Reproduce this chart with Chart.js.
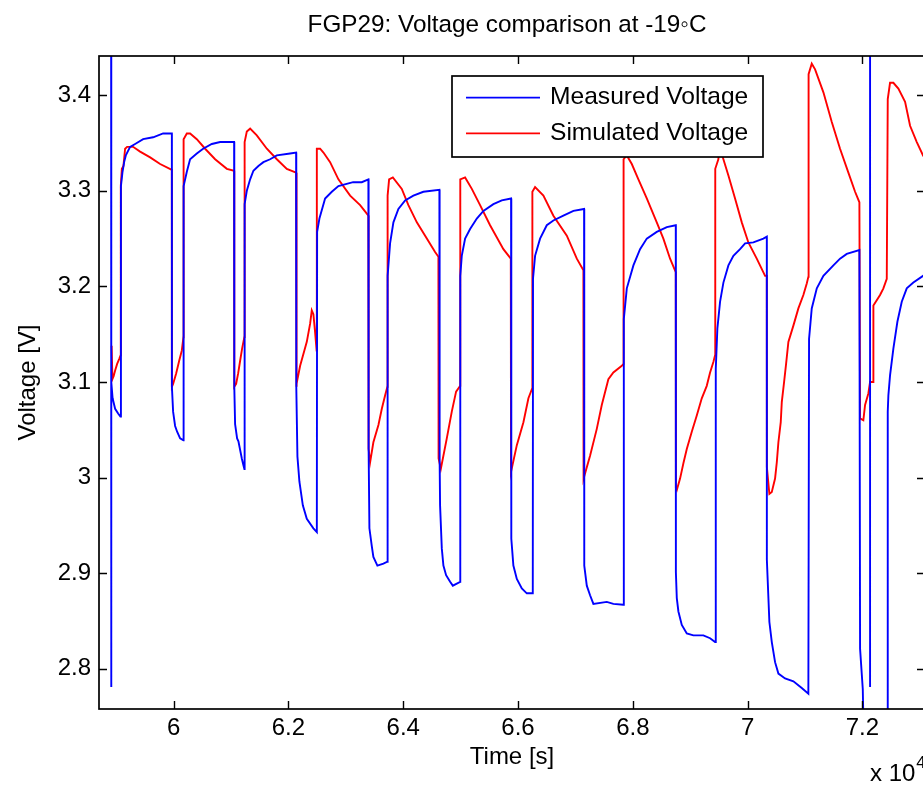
<!DOCTYPE html>
<html>
<head>
<meta charset="utf-8">
<script src="https://cdn.jsdelivr.net/npm/chart.js@4.4.1/dist/chart.umd.min.js"></script>
<style>
  html, body { margin: 0; padding: 0; background: #fff; overflow: hidden; width: 923px; height: 786px; }
  canvas { display: block; }
</style>
</head>
<body>
<canvas id="c" width="960" height="786"></canvas>
<script>
// ---------- data (time in s, voltage in V) ----------
const chartTitle = 'FGP29: Voltage comparison at -19\u25E6C';
const seriesNames = ['Measured Voltage', 'Simulated Voltage'];
const xTickValues = [60000, 62000, 64000, 66000, 68000, 70000, 72000];
const yTickValues = [2.8, 2.9, 3.0, 3.1, 3.2, 3.3, 3.4];

const measuredTime = [
  58911, 58911, 58917, 58937, 58981, 59033, 59073,
  59082, 59108, 59138, 59167, 59242, 59329, 59469, 59643, 59817, 59969,
  59970, 59991, 60026, 60061, 60113, 60171,
  60174, 60230, 60287, 60404, 60514, 60665, 60810, 61054,
  61057, 61071, 61106, 61129, 61188, 61216, 61233,
  61237, 61275, 61333, 61390, 61477, 61564, 61681, 61798, 62029, 62134,
  62137, 62157, 62191, 62251, 62320, 62435, 62495,
  62500, 62540, 62639, 62756, 62871, 63127, 63278, 63393,
  63397, 63411, 63453, 63480, 63550, 63655, 63724,
  63728, 63771, 63829, 63916, 64033, 64177, 64351, 64630,
  64634, 64642, 64672, 64700, 64747, 64817, 64864, 64991,
  64994, 65020, 65078, 65165, 65282, 65397, 65571, 65717, 65879,
  65883, 65919, 65979, 66066, 66153, 66257,
  66261, 66297, 66384, 66501, 66616, 66790, 66965, 67151,
  67154, 67198, 67255, 67313, 67546, 67661, 67836,
  67843, 67895, 68010, 68126, 68243, 68417, 68592, 68748,
  68750, 68766, 68794, 68853, 68940, 69055, 69229, 69346, 69433,
  69445, 69473, 69520, 69578, 69665, 69752, 69868, 69956, 70100, 70274, 70334,
  70335, 70379, 70421, 70478, 70536, 70652, 70797, 70943, 71058,
  71070, 71117, 71205, 71320, 71494, 71610, 71727, 71947,
  71959, 72006, 72016, 72029, 72080,
  72133, 72133, 72300,
  72438, 72441, 72452, 72481, 72539, 72609, 72685, 72772, 72887, 73056, 73265
];
const measuredVoltage = [
  3.600, 2.781, 3.100, 3.083, 3.072, 3.067, 3.064,
  3.305, 3.319, 3.330, 3.337, 3.346, 3.349, 3.354, 3.356, 3.360, 3.360,
  3.095, 3.069, 3.054, 3.048, 3.041, 3.039,
  3.305, 3.320, 3.333, 3.339, 3.344, 3.349, 3.351, 3.351,
  3.095, 3.056, 3.041, 3.038, 3.020, 3.013, 3.009,
  3.286, 3.300, 3.312, 3.321, 3.326, 3.330, 3.333, 3.337, 3.339, 3.340,
  3.095, 3.022, 2.996, 2.971, 2.957, 2.947, 2.943,
  3.257, 3.271, 3.292, 3.299, 3.305, 3.309, 3.309, 3.312,
  3.030, 2.947, 2.928, 2.917, 2.908, 2.910, 2.912,
  3.211, 3.245, 3.267, 3.281, 3.290, 3.295, 3.299, 3.301,
  3.020, 2.971, 2.926, 2.908, 2.898, 2.891, 2.887, 2.891,
  3.211, 3.232, 3.250, 3.260, 3.271, 3.279, 3.286, 3.290, 3.292,
  2.936, 2.908, 2.894, 2.884, 2.879, 2.879,
  3.208, 3.232, 3.250, 3.264, 3.269, 3.274, 3.279, 3.281,
  2.908, 2.887, 2.877, 2.868, 2.870, 2.868, 2.867,
  3.166, 3.198, 3.222, 3.239, 3.250, 3.257, 3.262, 3.264,
  2.901, 2.874, 2.860, 2.846, 2.837, 2.835, 2.835, 2.832, 2.828,
  3.114, 3.156, 3.184, 3.204, 3.222, 3.232, 3.239, 3.245, 3.246, 3.250, 3.252,
  2.914, 2.849, 2.828, 2.807, 2.795, 2.790, 2.787, 2.780, 2.774,
  3.145, 3.177, 3.198, 3.211, 3.222, 3.229, 3.234, 3.238,
  2.821, 2.779, 2.748, 2.700, null,
  2.781, 3.600, null,
  2.700, 3.069, 3.086, 3.107, 3.135, 3.163, 3.184, 3.198, 3.204, 3.211, 3.220
];

const simulatedTime = [
  58920, 58934, 58955, 58981, 59016, 59051, 59077,
  59080, 59098, 59126, 59155, 59190, 59294, 59416, 59591, 59765, 59969,
  59970, 59991, 60044, 60096, 60143, 60171,
  60174, 60230, 60287, 60404, 60549, 60723, 60927, 61054,
  61057, 61089, 61124, 61158, 61193, 61232,
  61237, 61275, 61333, 61449, 61624, 61798, 61972, 62134,
  62137, 62146, 62204, 62320, 62378, 62407, 62435, 62465, 62491,
  62495, 62552, 62610, 62726, 62871, 63075, 63249, 63393,
  63397, 63423, 63480, 63568, 63627, 63684, 63724,
  63728, 63754, 63819, 63975, 64090, 64237, 64411, 64555, 64613,
  64616, 64655, 64759, 64846, 64921, 64991,
  64994, 65078, 65195, 65339, 65513, 65745, 65874,
  65878, 65979, 66094, 66181, 66245,
  66250, 66297, 66442, 66616, 66850, 67024, 67139,
  67142, 67255, 67372, 67459, 67574, 67661, 67808, 67836,
  67839, 67895, 67982, 68097, 68243, 68417, 68532, 68649, 68748,
  68750, 68766, 68823, 68881, 68940, 69027, 69114, 69201, 69288, 69346, 69403, 69433,
  69436, 69490, 69511, 69665, 69781, 69898, 70013, 70159, 70304, 70334,
  70335, 70379, 70421, 70478, 70508, 70536, 70577, 70595, 70635, 70670, 70710, 70797, 70884, 70971, 71030, 71058,
  71062, 71117, 71175, 71320, 71466, 71610, 71755, 71872, 71947,
  71959, 72016, 72046, 72103, 72133, 72185,
  72191, 72307, 72365, 72424,
  72441, 72481, 72539, 72626, 72743, 72830, 72947, 73056, 73265
];
const simulatedVoltage = [
  3.138, 3.103, 3.106, 3.112, 3.119, 3.124, 3.128,
  3.305, 3.323, 3.326, 3.344, 3.346, 3.346, 3.341, 3.335, 3.328, 3.322,
  3.095, 3.098, 3.109, 3.122, 3.133, 3.147,
  3.354, 3.360, 3.360, 3.354, 3.344, 3.333, 3.323, 3.321,
  3.095, 3.098, 3.109, 3.122, 3.135, 3.147,
  3.351, 3.362, 3.365, 3.358, 3.344, 3.333, 3.323, 3.319,
  3.095, 3.098, 3.117, 3.142, 3.161, 3.175, 3.171, 3.152, 3.133,
  3.344, 3.344, 3.340, 3.330, 3.312, 3.295, 3.285, 3.274,
  3.030, 3.016, 3.037, 3.055, 3.072, 3.086, 3.095,
  3.295, 3.312, 3.314, 3.302, 3.285, 3.267, 3.250, 3.236, 3.231,
  3.020, 3.009, 3.041, 3.069, 3.090, 3.096,
  3.312, 3.314, 3.302, 3.285, 3.264, 3.239, 3.229,
  3.006, 3.034, 3.058, 3.083, 3.093,
  3.299, 3.304, 3.295, 3.274, 3.253, 3.229, 3.217,
  2.999, 3.023, 3.051, 3.076, 3.103, 3.110, 3.117, 3.119,
  3.333, 3.337, 3.328, 3.312, 3.292, 3.267, 3.250, 3.229, 3.215,
  2.989, 2.987, 2.999, 3.015, 3.030, 3.048, 3.065, 3.083, 3.096, 3.110, 3.121, 3.128,
  3.323, 3.333, 3.346, 3.316, 3.292, 3.267, 3.246, 3.229, 3.211, 3.211,
  3.011, 2.983, 2.985, 2.999, 3.016, 3.037, 3.058, 3.079, 3.100, 3.119, 3.142, 3.159, 3.177, 3.191, 3.203, 3.210,
  3.422, 3.433, 3.427, 3.403, 3.372, 3.344, 3.319, 3.299, 3.288,
  3.062, 3.060, 3.076, 3.088, 3.100, 3.100,
  3.180, 3.191, 3.198, 3.208,
  3.396, 3.413, 3.413, 3.407, 3.393, 3.368, 3.351, 3.337, 3.318
];

// ---------- chart ----------
const FONT = '"Liberation Sans", Arial, Helvetica, sans-serif';
const toPoints = (ts, vs) => ts.map((t, i) => ({ x: t, y: vs[i] }));

const framePlugin = {
  id: 'matlabFrame',
  afterDatasetsDraw(chart) {
    const { ctx, chartArea: a, scales } = chart;
    const xs = scales.x, ys = scales.y;
    ctx.save();
    // box
    ctx.strokeStyle = '#000';
    ctx.lineWidth = 1.7;
    ctx.strokeRect(a.left, a.top, a.right - a.left, a.bottom - a.top);
    // inward ticks
    ctx.lineWidth = 1.4;
    const tl = 8;
    ctx.beginPath();
    xTickValues.forEach(v => {
      const px = Math.round(xs.getPixelForValue(v)) + 0.5;
      ctx.moveTo(px, a.bottom); ctx.lineTo(px, a.bottom - tl);
      ctx.moveTo(px, a.top); ctx.lineTo(px, a.top + tl);
    });
    yTickValues.forEach(v => {
      const py = Math.round(ys.getPixelForValue(v)) + 0.5;
      ctx.moveTo(a.left, py); ctx.lineTo(a.left + tl, py);
      ctx.moveTo(a.right, py); ctx.lineTo(a.right - tl, py);
    });
    ctx.stroke();

    // legend
    const lx = 452, ly = 76, lw = 311, lh = 81;
    ctx.fillStyle = '#fff';
    ctx.fillRect(lx, ly, lw, lh);
    ctx.lineWidth = 1.7;
    ctx.strokeStyle = '#000';
    ctx.strokeRect(lx, ly, lw, lh);
    const colors = ['#0000ff', '#ff0000'];
    const rows = [{ line: 97.7, base: 103.5 }, { line: 133.3, base: 139.5 }];
    ctx.font = '24.6px ' + FONT;
    ctx.textAlign = 'left';
    ctx.textBaseline = 'alphabetic';
    rows.forEach((r, i) => {
      ctx.strokeStyle = colors[i];
      ctx.lineWidth = 1.8;
      ctx.beginPath();
      ctx.moveTo(466, r.line); ctx.lineTo(540, r.line);
      ctx.stroke();
      ctx.fillStyle = '#000';
      ctx.fillText(seriesNames[i], 550, r.base);
    });

    // title
    ctx.fillStyle = '#000';
    ctx.font = '24.3px ' + FONT;
    ctx.textAlign = 'center';
    ctx.textBaseline = 'alphabetic';
    ctx.fillText(chartTitle, 507, 31.5);

    // exponent label
    ctx.textAlign = 'left';
    ctx.font = '24px ' + FONT;
    ctx.fillText('x 10', 870, 781);
    const w = ctx.measureText('x 10').width;
    ctx.font = '17px ' + FONT;
    ctx.fillText('4', 870 + w + 1, 768);
    ctx.restore();
  }
};

new Chart(document.getElementById('c'), {
  type: 'line',
  data: {
    datasets: [
      {
        label: seriesNames[0],
        data: toPoints(measuredTime, measuredVoltage),
        borderColor: '#0000ff',
        borderWidth: 1.9,
        pointRadius: 0,
        tension: 0,
        spanGaps: false
      },
      {
        label: seriesNames[1],
        data: toPoints(simulatedTime, simulatedVoltage),
        borderColor: '#ff0000',
        borderWidth: 1.9,
        pointRadius: 0,
        tension: 0,
        spanGaps: false
      }
    ]
  },
  options: {
    responsive: false,
    animation: false,
    devicePixelRatio: 1,
    layout: { padding: { left: 0, right: 35, top: 56, bottom: 0 } },
    plugins: {
      legend: { display: false },
      title: { display: false },
      tooltip: { enabled: false }
    },
    scales: {
      x: {
        type: 'linear',
        min: 58700,
        max: 73090,
        grid: { display: false, drawTicks: false },
        border: { display: false },
        afterBuildTicks: s => { s.ticks = xTickValues.map(v => ({ value: v })); },
        afterFit: s => { s.height = 77; },
        ticks: {
          autoSkip: false,
          maxRotation: 0,
          padding: 5,
          color: '#000',
          font: { family: FONT, size: 24 },
          callback: v => String(v / 10000)
        },
        title: {
          display: true,
          text: 'Time [s]',
          color: '#000',
          font: { family: FONT, size: 24 },
          padding: { top: 0, bottom: 14 }
        }
      },
      y: {
        min: 2.758,
        max: 3.441,
        grid: { display: false, drawTicks: false },
        border: { display: false },
        afterBuildTicks: s => { s.ticks = yTickValues.map(v => ({ value: v })); },
        afterFit: s => { s.width = 99; },
        ticks: {
          autoSkip: false,
          padding: 8,
          color: '#000',
          font: { family: FONT, size: 24 },
          callback: v => String(v)
        },
        title: {
          display: true,
          text: 'Voltage [V]',
          color: '#000',
          font: { family: FONT, size: 24 },
          padding: { top: 14, bottom: 0 }
        }
      }
    }
  },
  plugins: [framePlugin]
});
</script>
</body>
</html>
